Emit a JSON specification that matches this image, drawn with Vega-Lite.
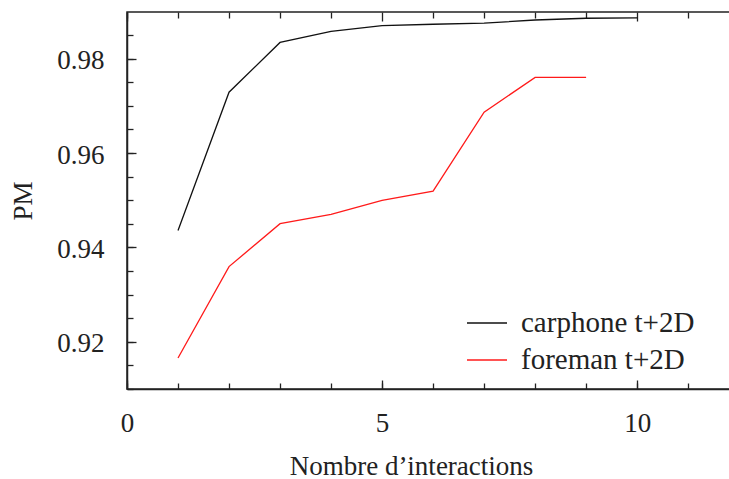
{
  "$schema": "https://vega.github.io/schema/vega-lite/v6.json",
  "width": 604,
  "height": 377,
  "autosize": "none",
  "padding": {"left": 127, "top": 12, "right": 0, "bottom": 90},
  "background": "white",
  "config": {
    "view": {"stroke": "#222", "strokeWidth": 1.5},
    "font": "Liberation Serif",
    "axis": {
      "domainColor": "#222", "domainWidth": 1.5,
      "tickColor": "#222", "tickWidth": 1.3,
      "labelColor": "#222", "titleColor": "#222",
      "labelFont": "Liberation Serif", "titleFont": "Liberation Serif",
      "labelFontSize": 27, "titleFontSize": 27, "titleFontWeight": "normal",
      "grid": false
    }
  },
  "data": {
    "values": [
      {"n": 1, "v": 0.9436, "s": "carphone t+2D"},
      {"n": 2, "v": 0.9729, "s": "carphone t+2D"},
      {"n": 3, "v": 0.98345, "s": "carphone t+2D"},
      {"n": 4, "v": 0.9858, "s": "carphone t+2D"},
      {"n": 5, "v": 0.987, "s": "carphone t+2D"},
      {"n": 6, "v": 0.9873, "s": "carphone t+2D"},
      {"n": 7, "v": 0.98753, "s": "carphone t+2D"},
      {"n": 8, "v": 0.9882, "s": "carphone t+2D"},
      {"n": 9, "v": 0.98858, "s": "carphone t+2D"},
      {"n": 10, "v": 0.98867, "s": "carphone t+2D"},
      {"n": 1, "v": 0.91657, "s": "foreman t+2D"},
      {"n": 2, "v": 0.93594, "s": "foreman t+2D"},
      {"n": 3, "v": 0.94503, "s": "foreman t+2D"},
      {"n": 4, "v": 0.94702, "s": "foreman t+2D"},
      {"n": 5, "v": 0.94998, "s": "foreman t+2D"},
      {"n": 6, "v": 0.95194, "s": "foreman t+2D"},
      {"n": 7, "v": 0.96865, "s": "foreman t+2D"},
      {"n": 8, "v": 0.97605, "s": "foreman t+2D"},
      {"n": 9, "v": 0.97605, "s": "foreman t+2D"}
    ]
  },
  "layer": [
    {
      "mark": {"type": "line", "strokeWidth": 1.3},
      "encoding": {
        "x": {
          "field": "n", "type": "quantitative",
          "scale": {"domain": [0, 11.84], "nice": false, "zero": false},
          "axis": {
            "orient": "bottom",
            "values": [0, 1, 2, 3, 4, 5, 6, 7, 8, 9, 10, 11],
            "labelExpr": "datum.value % 5 === 0 ? datum.label : ''",
            "tickSize": -6,
            "labelPadding": 27,
            "labelFlush": false,
            "labelOverlap": false,
            "title": "Nombre d’interactions",
            "titleX": 284,
            "titlePadding": 17
          }
        },
        "y": {
          "field": "v", "type": "quantitative",
          "scale": {"domain": [0.91, 0.9899], "nice": false, "zero": false},
          "axis": {
            "orient": "left",
            "values": [0.91, 0.915, 0.92, 0.925, 0.93, 0.935, 0.94, 0.945, 0.95, 0.955, 0.96, 0.965, 0.97, 0.975, 0.98, 0.985],
            "format": ".2f",
            "labelExpr": "round(datum.value*1000) % 20 === 0 ? datum.label : ''",
            "tickSize": -6,
            "labelPadding": 29,
            "labelOffset": 2,
            "labelFlush": false,
            "labelOverlap": false,
            "title": "PM",
            "titlePadding": 19
          }
        },
        "color": {
          "field": "s", "type": "nominal",
          "scale": {"domain": ["carphone t+2D", "foreman t+2D"], "range": ["#111111", "#ff1a1a"]},
          "legend": {
            "title": null,
            "orient": "none",
            "legendX": 339,
            "legendY": 290,
            "symbolType": "stroke",
            "symbolSize": 1600,
            "symbolStrokeWidth": 1.3,
            "labelFont": "Liberation Serif",
            "labelFontSize": 29,
            "labelColor": "#222",
            "labelOffset": 13,
            "rowPadding": 1,
            "labelLimit": 400
          }
        }
      }
    },
    {
      "mark": {"type": "rule", "opacity": 0},
      "encoding": {
        "y": {
          "field": "v", "type": "quantitative",
          "axis": {
            "orient": "left",
            "values": [0.92, 0.94, 0.96, 0.98],
            "labels": false, "domain": false, "title": null,
            "tickSize": -9
          }
        }
      }
    },
    {
      "mark": {"type": "rule", "opacity": 0},
      "encoding": {
        "x": {
          "field": "n", "type": "quantitative",
          "axis": {
            "orient": "bottom",
            "values": [0, 5, 10],
            "labels": false, "domain": false, "title": null,
            "tickSize": -9
          }
        }
      }
    },
    {
      "mark": {"type": "rule", "opacity": 0},
      "encoding": {
        "x": {
          "field": "n", "type": "quantitative",
          "axis": {
            "orient": "top",
            "values": [0, 1, 2, 3, 4, 6, 7, 8, 9, 11],
            "labels": false, "domain": false, "title": null,
            "tickSize": -6
          }
        }
      }
    },
    {
      "mark": {"type": "rule", "opacity": 0},
      "encoding": {
        "x": {
          "field": "n", "type": "quantitative",
          "axis": {
            "orient": "top",
            "values": [0, 5, 10],
            "labels": false, "domain": false, "title": null,
            "tickSize": -9
          }
        }
      }
    }
  ],
  "resolve": {"axis": {"x": "independent", "y": "independent"}}
}
